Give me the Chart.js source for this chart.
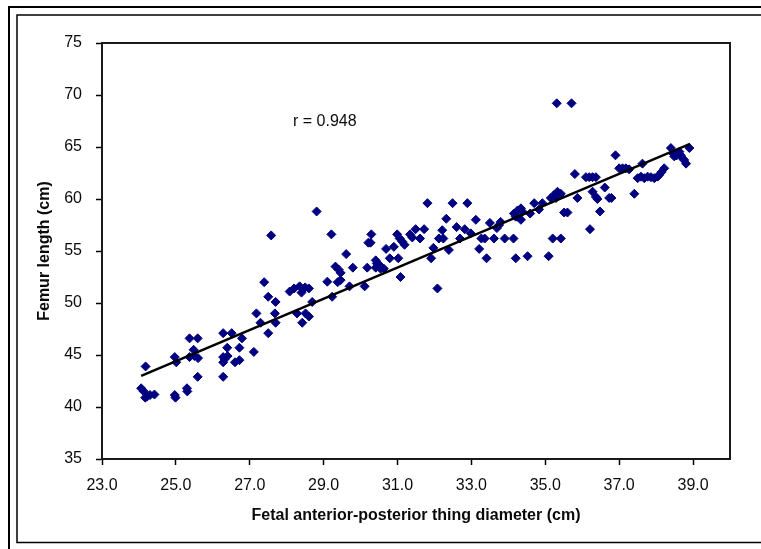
<!DOCTYPE html>
<html>
<head>
<meta charset="utf-8">
<script src="https://cdn.jsdelivr.net/npm/chart.js@4.4.1/dist/chart.umd.min.js"></script>
<style>
  body { margin: 0; background: #fff; }
  #wrap { width: 761px; height: 549px; }
</style>
</head>
<body>
<div id="wrap"><canvas id="scatterChart" width="761" height="549"></canvas></div>
<script>
// thigh diameter (cm) vs femur length (cm)
const thighDiameter = [
  24.18, 24.06, 24.13, 24.22, 24.30, 24.42, 24.17,
  24.97, 24.99, 25.30, 25.31, 24.97, 25.01, 25.37, 25.59, 25.48, 25.37, 25.50, 25.60, 25.59,
  26.28, 26.51, 26.39, 26.28, 26.32, 26.28, 26.40, 26.28, 26.79, 26.72, 26.60, 26.72,
  27.11, 27.18, 27.29, 27.50, 27.39, 27.50, 27.70, 27.68, 27.70, 27.58,
  28.08, 28.20, 28.35, 28.50, 28.60, 28.40, 28.28, 28.51, 28.42, 28.60, 28.69, 28.81,
  29.10, 29.21, 29.23, 29.32, 29.41, 29.46, 29.38, 29.46, 29.61, 29.70, 29.79,
  30.11, 30.18, 30.21, 30.27, 30.29, 30.41, 30.44, 30.50, 30.41, 30.54, 30.63, 30.69, 30.79, 30.90,
  31.02, 30.99, 31.06, 31.13, 31.19, 31.08, 31.34, 31.40, 31.49, 31.61, 31.72, 31.81, 31.91, 31.97,
  32.08, 32.12, 32.21, 32.24, 32.32, 32.39, 32.49, 32.60, 32.69, 32.82, 32.89, 32.98,
  33.12, 33.21, 33.27, 33.36, 33.41, 33.50, 33.61, 33.69, 33.75, 33.79, 33.90,
  34.14, 34.20, 34.15, 34.25, 34.34, 34.38, 34.25, 34.34, 34.20, 34.52, 34.59, 34.70, 34.83, 34.92,
  35.09, 35.20, 35.42, 35.15, 35.24, 35.33, 35.42, 35.29, 35.51, 35.60, 35.31, 35.71, 35.80, 35.87,
  36.10, 36.19, 36.28, 36.37, 36.21, 36.28, 36.37, 36.41, 36.48, 36.61, 36.73, 36.79, 36.90,
  37.00, 37.09, 37.18, 37.27, 37.41, 37.50, 37.59, 37.63, 37.68, 37.77, 37.86, 37.95,
  38.04, 38.08, 38.15, 38.22, 38.40, 38.45, 38.49, 38.56, 38.63, 38.67, 38.72, 38.76, 38.81, 38.90
];
const femurLength = [
  43.9, 41.8, 41.5, 41.0, 41.15, 41.2, 40.9,
  41.15, 40.9, 41.8, 41.5, 44.8, 44.3, 46.6, 46.6, 45.5, 44.8, 44.9, 44.7, 42.9,
  47.1, 47.1, 45.7, 44.8, 44.6, 44.3, 44.9, 42.9, 46.6, 45.7, 44.3, 44.5,
  45.3, 49.0, 48.1, 47.1, 52.0, 50.6, 50.1, 49.0, 48.1, 56.5,
  51.1, 51.4, 51.6, 51.5, 51.4, 51.0, 49.0, 49.0, 48.1, 48.7, 50.1, 58.8,
  52.05, 56.6, 50.6, 53.5, 53.2, 52.9, 52.0, 52.2, 54.7, 51.6, 53.4,
  51.6, 53.4, 55.8, 55.8, 56.6, 54.1, 53.8, 53.7, 53.4, 53.3, 53.3, 55.2, 54.3, 55.4,
  54.3, 56.6, 56.2, 55.9, 55.6, 52.5, 56.6, 56.3, 57.1, 56.2, 57.1, 59.6, 54.3, 55.3,
  51.4, 56.2, 57.0, 56.2, 58.1, 55.1, 59.6, 57.3, 56.2, 57.1, 59.6, 56.7,
  58.0, 55.2, 56.2, 56.2, 54.3, 57.7, 56.2, 57.2, 57.5, 57.8, 56.2,
  56.2, 54.3, 58.6, 58.9, 59.1, 58.8, 58.3, 58.0, 58.3, 54.5, 58.6, 59.6, 59.0, 59.6,
  54.5, 56.2, 56.2, 60.1, 60.4, 60.7, 60.5, 60.1, 58.7, 58.7, 69.2, 69.2, 62.4, 60.1,
  62.1, 62.1, 62.1, 62.1, 57.1, 60.7, 60.2, 60.0, 58.8, 61.1, 60.1, 60.1, 64.2,
  62.95, 62.95, 62.95, 62.85, 60.5, 62.0, 62.15, 63.4, 62.0, 62.15, 62.1, 62.0,
  62.15, 62.3, 62.6, 62.95, 64.9, 64.4, 64.1, 64.2, 64.55, 64.2, 63.9, 63.75, 63.4, 64.9
];

// fitted line as drawn (ends)
const trendX = [24.06, 38.92];
const trendY = [43.0, 65.3];

const xTicks = [23, 25, 27, 29, 31, 33, 35, 37, 39];
const yTicks = [35, 40, 45, 50, 55, 60, 65, 70, 75];
const rLabel = 'r = 0.948';

const scatterPoints = thighDiameter.map((x, i) => ({ x: x, y: femurLength[i] }));
const trendPoints = trendX.map((x, i) => ({ x: x, y: trendY[i] }));

const frameAndNote = {
  id: 'frameAndNote',
  beforeDraw(chart) {
    const c = chart.ctx;
    c.save();
    c.strokeStyle = '#000';
    c.lineWidth = 2;
    c.strokeRect(9, 7, 800, 560);
    c.lineWidth = 1.5;
    c.strokeRect(17, 15, 800, 527.5);
    c.restore();
  },
  afterDatasetsDraw(chart) {
    const c = chart.ctx;
    const a = chart.chartArea;
    c.save();
    c.strokeStyle = '#1a1a1a';
    c.lineWidth = 2;
    c.strokeRect(a.left, a.top, a.right - a.left, a.bottom - a.top);
    c.fillStyle = '#0a0a0a';
    c.font = '16px "Liberation Sans", Arial, sans-serif';
    c.textBaseline = 'middle';
    c.fillText(rLabel, 293, 122);
    c.restore();
  }
};

const tickFont = { family: '"Liberation Sans", Arial, sans-serif', size: 16 };
const titleFont = { family: '"Liberation Sans", Arial, sans-serif', size: 16, weight: 'bold' };

new Chart(document.getElementById('scatterChart'), {
  type: 'scatter',
  data: {
    datasets: [
      {
        type: 'line',
        data: trendPoints,
        borderColor: '#000',
        borderWidth: 2.5,
        pointRadius: 0,
        fill: false,
        order: 0
      },
      {
        data: scatterPoints,
        backgroundColor: '#000080',
        borderColor: '#000080',
        borderWidth: 1,
        pointStyle: 'rectRot',
        pointRadius: 4.5,
        order: 1
      }
    ]
  },
  options: {
    responsive: false,
    animation: false,
    devicePixelRatio: 1,
    layout: { padding: { left: 0, top: 43, right: 31, bottom: 0 } },
    plugins: { legend: { display: false }, tooltip: { enabled: false } },
    scales: {
      x: {
        type: 'linear',
        min: 23,
        max: 40,
        afterBuildTicks: (s) => { s.ticks = xTicks.map(v => ({ value: v })); },
        afterFit: (s) => { s.height = 90; },
        grid: { drawOnChartArea: false, color: '#000', tickLength: 6, tickWidth: 1.5 },
        border: { color: '#1a1a1a', width: 2 },
        ticks: {
          color: '#0a0a0a',
          font: tickFont,
          padding: 11,
          maxRotation: 0,
          callback: (v) => Number(v).toFixed(1)
        },
        title: {
          display: true,
          text: 'Fetal anterior-posterior thing diameter (cm)',
          color: '#0a0a0a',
          font: titleFont,
          padding: { top: 0, bottom: 24 }
        }
      },
      y: {
        type: 'linear',
        min: 35,
        max: 75,
        afterBuildTicks: (s) => { s.ticks = yTicks.map(v => ({ value: v })); },
        afterFit: (s) => { s.width = 102; },
        grid: { drawOnChartArea: false, color: '#000', tickLength: 6, tickWidth: 1.5 },
        border: { color: '#1a1a1a', width: 2 },
        ticks: { color: '#0a0a0a', font: tickFont, padding: 14 },
        title: {
          display: true,
          text: 'Femur length (cm)',
          color: '#0a0a0a',
          font: titleFont,
          padding: { top: 35, bottom: 0 }
        }
      }
    }
  },
  plugins: [frameAndNote]
});
</script>
</body>
</html>
